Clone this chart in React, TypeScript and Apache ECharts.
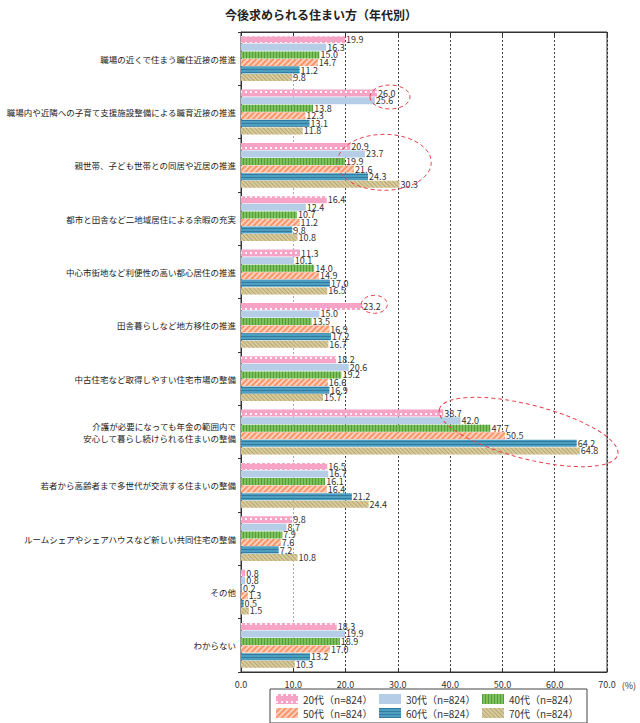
import React, { useEffect, useRef } from "react";
import * as echarts from "echarts";

const categories = [
  "職場の近くで住まう職住近接の推進",
  "職場内や近隣への子育て支援施設整備による職育近接の推進",
  "親世帯、子ども世帯との同居や近居の推進",
  "都市と田舎など二地域居住による余暇の充実",
  "中心市街地など利便性の高い都心居住の推進",
  "田舎暮らしなど地方移住の推進",
  "中古住宅など取得しやすい住宅市場の整備",
  "介護が必要になっても年金の範囲内で\n安心して暮らし続けられる住まいの整備",
  "若者から高齢者まで多世代が交流する住まいの整備",
  "ルームシェアやシェアハウスなど新しい共同住宅の整備",
  "その他",
  "わからない",
];

const seriesNames = [
  "20代（n=824）",
  "30代（n=824）",
  "40代（n=824）",
  "50代（n=824）",
  "60代（n=824）",
  "70代（n=824）",
];

const v20 = [19.9, 26.0, 20.9, 16.4, 11.3, 23.2, 18.2, 38.7, 16.5, 9.8, 0.8, 18.3];
const v30 = [16.3, 25.6, 23.7, 12.4, 10.1, 15.0, 20.6, 42.0, 16.7, 8.7, 0.8, 19.9];
const v40 = [15.0, 13.8, 19.9, 10.7, 14.0, 13.5, 19.2, 47.7, 16.1, 7.9, 0.2, 18.9];
const v50 = [14.7, 12.3, 21.6, 11.2, 14.9, 16.9, 16.6, 50.5, 16.4, 7.6, 1.3, 17.0];
const v60 = [11.2, 13.1, 24.3, 9.8, 17.0, 17.2, 16.9, 64.2, 21.2, 7.2, 0.5, 13.2];
const v70 = [9.8, 11.8, 30.3, 10.8, 16.5, 16.7, 15.7, 64.8, 24.4, 10.8, 1.5, 10.3];
const seriesValues = [v20, v30, v40, v50, v60, v70];

const xMin = 0;
const xMax = 70;
const xInterval = 10;

// annotation ellipses anchored at (value, category index)
const highlights = [
  { category: 1, value: 28.5, dy: -15, rx: 20, ry: 12, rot: 0 },
  { category: 2, value: 27.4, dy: -3, rx: 47, ry: 28, rot: 0 },
  { category: 5, value: 25.5, dy: -21, rx: 13, ry: 9, rot: 0 },
  { category: 7, value: 55.0, dy: 0, rx: 92, ry: 27, rot: -0.25 },
];

const colors = ["#f6a3c6", "#b5cde6", "#7cc15a", "#f8966a", "#4c9fc0", "#d9cc9c"];
const decals: any[] = [
  { symbol: "rect", color: "rgba(255,255,255,0.9)", dashArrayX: [2, 3], dashArrayY: [2, 5], symbolSize: 1 },
  null,
  { symbol: "rect", color: "rgba(40,110,30,0.45)", dashArrayX: [1, 1.5], dashArrayY: [1, 0], symbolSize: 1 },
  { symbol: "rect", color: "rgba(255,255,255,0.55)", dashArrayX: [1, 0], dashArrayY: [1.2, 2], symbolSize: 1, rotation: -Math.PI / 4 },
  { symbol: "rect", color: "rgba(25,90,125,0.5)", dashArrayX: [1, 0], dashArrayY: [1, 1.6], symbolSize: 1 },
  { symbol: "rect", color: "rgba(150,130,80,0.5)", dashArrayX: [1, 0], dashArrayY: [1, 1.6], symbolSize: 1, rotation: Math.PI / 4 },
];

const FONT = "'Noto Sans CJK JP', 'Noto Sans', sans-serif";

export default function App() {
  const ref = useRef<HTMLDivElement>(null);
  useEffect(() => {
    if (!ref.current) return;
    const chart = echarts.init(ref.current, null, { renderer: "svg" });
    const option: any = {
      animation: false,
      backgroundColor: "#fff",
      textStyle: { fontFamily: FONT },
      title: {
        text: "今後求められる住まい方（年代別）",
        left: 220,
        top: 3,
        textStyle: { fontSize: 12, fontWeight: "bold", color: "#222", fontFamily: FONT },
      },
      grid: {
        left: 241,
        right: 33,
        top: 32,
        bottom: 51,
        show: true,
        borderColor: "#333",
        borderWidth: 1,
        containLabel: false,
      },
      legend: {
        data: seriesNames,
        left: 270,
        top: 689,
        width: 310,
        orient: "horizontal",
        icon: "rect",
        itemWidth: 22,
        itemHeight: 10,
        itemGap: 4,
        padding: [5, 6],
        borderColor: "#444",
        borderWidth: 1,
        textStyle: { fontSize: 10, color: "#333", lineHeight: 10, width: 72, fontFamily: FONT },
      },
      xAxis: [
        {
          type: "value",
          min: xMin,
          max: xMax,
          interval: xInterval,
          position: "bottom",
          name: "(%)",
          nameLocation: "end",
          nameGap: 13,
          nameTextStyle: { fontSize: 9, color: "#333", verticalAlign: "top", padding: [9, 0, 0, 0] },
          axisLine: { show: true, lineStyle: { color: "#333" } },
          axisTick: { show: true, inside: true, length: 4, lineStyle: { color: "#333" } },
          axisLabel: { fontSize: 9, color: "#333", margin: 8, formatter: (v: number) => v.toFixed(1) },
          splitLine: {
            show: true,
            lineStyle: {
              color: ["#555", "#aaa", "#444", "#444", "#444", "#444", "#444", "#333"],
              type: [2, 2],
              width: 1,
            },
          },
        },
        {
          type: "value",
          min: xMin,
          max: xMax,
          interval: xInterval,
          position: "top",
          axisLine: { show: true, lineStyle: { color: "#333" } },
          axisTick: { show: true, inside: true, length: 4, lineStyle: { color: "#333" } },
          axisLabel: { show: false },
          splitLine: { show: false },
        },
      ],
      yAxis: {
        type: "category",
        data: categories,
        inverse: true,
        axisLine: { show: true, lineStyle: { color: "#333" } },
        axisTick: { show: true, length: 3, lineStyle: { color: "#333" } },
        axisLabel: { fontSize: 8.5, color: "#222", margin: 5, lineHeight: 12, fontFamily: FONT },
      },
      series: seriesNames.map((name, i) => ({
        name,
        type: "bar",
        xAxisIndex: 0,
        data: seriesValues[i],
        barCategoryGap: "16%",
        barGap: "8%",
        itemStyle: Object.assign({ color: colors[i] }, decals[i] ? { decal: decals[i] } : {}),
        label: {
          show: true,
          position: "right",
          distance: 1,
          fontSize: 9,
          color: "#333",
          fontFamily: FONT,
          formatter: (p: any) => Number(p.value).toFixed(1),
        },
      })),
    };
    chart.setOption(option);
    const g = highlights.map((h) => {
      const pt = chart.convertToPixel({ xAxisIndex: 0, yAxisIndex: 0 }, [h.value, h.category]) as number[];
      return {
        type: "ellipse",
        x: pt[0],
        y: pt[1] + h.dy,
        rotation: h.rot,
        shape: { cx: 0, cy: 0, rx: h.rx, ry: h.ry },
        style: { fill: "none", stroke: "#e8414f", lineWidth: 1, lineDash: [4, 3] },
        silent: true,
        z: 100,
      };
    });
    chart.setOption({ graphic: g });
    return () => chart.dispose();
  }, []);
  return (
    <div
      ref={ref}
      style={{ position: "absolute", left: 0, top: 0, width: 640, height: 723 }}
    />
  );
}
